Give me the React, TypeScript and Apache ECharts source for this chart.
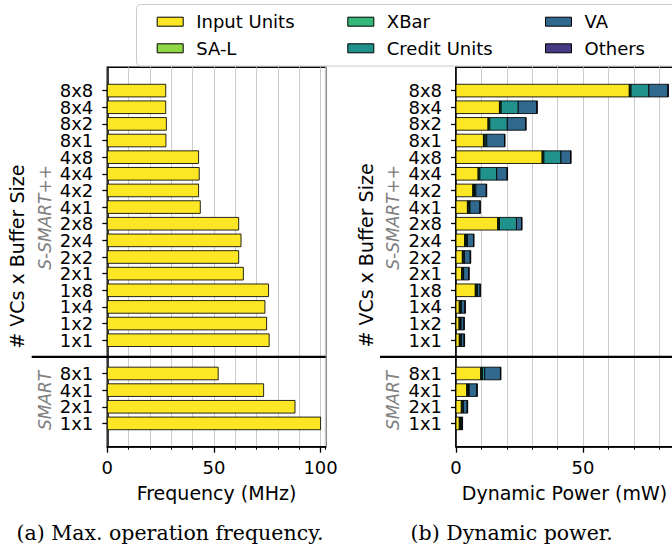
import React, { useEffect, useRef } from 'react';
import * as echarts from 'echarts';

// ---------------- data ----------------
const smartLabels = ['1x1', '2x1', '4x1', '8x1'];
const sSmartLabels = ['1x1', '1x2', '1x4', '1x8', '2x1', '2x2', '2x4', '2x8', '4x1', '4x2', '4x4', '4x8', '8x1', '8x2', '8x4', '8x8'];

const freqSmart = [100.0, 88.0, 73.3, 52.0];
const freqSSmart = [75.9, 74.7, 73.9, 75.6, 63.8, 61.6, 62.7, 61.6, 43.6, 42.8, 43.1, 42.8, 27.5, 27.7, 27.4, 27.4];

const seriesNames = ['Input Units', 'SA-L', 'XBar', 'Credit Units', 'VA', 'Others'];
const seriesColors = ['#fde725', '#8fd744', '#35b779', '#21918c', '#31688e', '#443983'];

const inputSmart = [1.3, 2.1, 4.2, 9.7];
const salSmart = [0.3, 0.3, 0.3, 0.3];
const xbarSmart = [0.4, 0.4, 0.4, 0.4];
const creditSmart = [0.0, 0.1, 0.3, 0.9];
const vaSmart = [0.4, 1.5, 3.0, 6.2];
const othersSmart = [0.2, 0.2, 0.2, 0.2];

const inputSSmart = [1.3, 1.2, 1.3, 7.6, 2.2, 2.5, 3.4, 16.4, 4.5, 6.6, 8.7, 33.9, 10.8, 12.6, 17.1, 68.2];
const salSSmart = [0.3, 0.3, 0.3, 0.3, 0.3, 0.3, 0.3, 0.3, 0.3, 0.3, 0.3, 0.3, 0.3, 0.3, 0.3, 0.3];
const xbarSSmart = [0.4, 0.4, 0.4, 0.4, 0.4, 0.4, 0.4, 0.4, 0.4, 0.4, 0.4, 0.4, 0.4, 0.4, 0.4, 0.4];
const creditSSmart = [0.1, 0.1, 0.1, 0.1, 0.1, 0.1, 0.4, 6.7, 0.3, 0.5, 6.6, 6.7, 0.6, 6.9, 6.7, 7.0];
const vaSSmart = [1.1, 1.1, 1.4, 1.1, 2.0, 2.3, 2.4, 2.0, 3.9, 4.1, 4.1, 3.8, 7.0, 7.2, 7.3, 7.5];
const othersSSmart = [0.2, 0.2, 0.2, 0.2, 0.2, 0.2, 0.2, 0.2, 0.2, 0.2, 0.2, 0.2, 0.2, 0.2, 0.2, 0.2];

const freqTicks = [0, 50, 100];
const powerTicks = [0, 50];

// ---------------- derived ----------------
const smartPos = smartLabels.map((_, i) => i);
const sepPos = smartLabels.length;
const sSmartPos = sSmartLabels.map((_, i) => sepPos + 1 + i);
const allPos = [...smartPos, ...sSmartPos];
const posLabel: Record<number, string> = {};
smartPos.forEach((p, i) => (posLabel[p] = smartLabels[i]));
sSmartPos.forEach((p, i) => (posLabel[p] = sSmartLabels[i]));

const powerSmart = [inputSmart, salSmart, xbarSmart, creditSmart, vaSmart, othersSmart];
const powerSSmart = [inputSSmart, salSSmart, xbarSSmart, creditSSmart, vaSSmart, othersSSmart];

function stackData(groups: number[][], positions: number[]) {
  const out: number[][][] = groups.map(() => []);
  positions.forEach((p, r) => {
    let acc = 0;
    groups.forEach((g, s) => {
      const v = g[r];
      out[s].push([acc, acc + v, p]);
      acc += v;
    });
  });
  return out;
}
const stackedSmart = stackData(powerSmart, smartPos);
const stackedSSmart = stackData(powerSSmart, sSmartPos);

const FONT = 'DejaVu Sans';
const EDGE = 'rgba(0,0,0,0.85)';
const BAR_FRAC = 0.76;
const Y_MIN = -1.4;
const Y_MAX = 21.4;
const FREQ_MAX = 102.4;
const POWER_MAX = 85.4;

const makeRender = (color: string) => (params: any, api: any) => {
  const a = api.coord([api.value(0), api.value(2)]);
  const b = api.coord([api.value(1), api.value(2)]);
  const h = api.size([0, 1])[1] * BAR_FRAC;
  return {
    type: 'rect',
    shape: { x: a[0], y: a[1] - h / 2, width: b[0] - a[0], height: h },
    style: { fill: color, stroke: EDGE, lineWidth: 1 },
  };
};

function xAxes(gridIndex: number, max: number, labels: number[], name: string) {
  return [
    {
      gridIndex,
      type: 'value',
      min: 0,
      max,
      interval: 10,
      position: 'bottom',
      axisLine: { show: true, onZero: false, lineStyle: { color: '#000', width: 1.5 } },
      axisTick: { show: true, length: 3, lineStyle: { color: '#000', width: 1 } },
      axisLabel: {
        customValues: labels,
        fontSize: 18,
        fontFamily: FONT,
        color: '#000',
        margin: 12,
        showMinLabel: true,
        showMaxLabel: true,
      },
      splitLine: { show: true, lineStyle: { color: '#cccccc', width: 1 } },
      name,
      nameLocation: 'middle',
      nameGap: 37,
      nameTextStyle: { fontSize: 19, fontFamily: FONT, color: '#000' },
    },
    {
      gridIndex,
      type: 'value',
      min: 0,
      max,
      position: 'bottom',
      axisLine: { show: false, onZero: false },
      axisTick: { show: true, customValues: labels, length: 6, lineStyle: { color: '#000', width: 1.3 } },
      axisLabel: { show: false },
      splitLine: { show: false },
    },
  ];
}

function yAxis(gridIndex: number) {
  return {
    gridIndex,
    type: 'value',
    min: Y_MIN,
    max: Y_MAX,
    position: 'left',
    axisLine: { show: true, onZero: false, lineStyle: { color: '#000', width: 1.5 } },
    axisTick: { show: true, customValues: allPos, length: 5, lineStyle: { color: '#000', width: 1.3 } },
    axisLabel: {
      // the extent ends are empty placeholders so that no real label is dropped
      customValues: [Y_MIN, ...allPos, Y_MAX],
      formatter: (v: number) => posLabel[Math.round(v * 10) / 10] ?? '',
      fontSize: 18,
      lineHeight: 16,
      fontFamily: FONT,
      color: '#000',
      margin: 14,
      showMinLabel: false,
      showMaxLabel: false,
      hideOverlap: false,
    },
    splitLine: { show: false },
  };
}

function legendCol(names: string[], left: number) {
  return {
    data: names,
    orient: 'vertical',
    left,
    top: 12.7,
    padding: 0,
    itemWidth: 26,
    itemHeight: 9,
    itemGap: 8.6,
    icon: 'rect',
    selectedMode: false,
    itemStyle: { borderColor: '#000', borderWidth: 1 },
    textStyle: { fontSize: 18, fontFamily: FONT, color: '#000', lineHeight: 18, padding: [0, 0, 0, 8] },
  };
}

export default function App() {
  const ref = useRef<HTMLDivElement>(null);
  useEffect(() => {
    document.body.style.margin = '0';
    if (!ref.current) return;
    const chart = echarts.init(ref.current, undefined, { renderer: 'svg' });

    const series: any[] = [];
    series.push({
      type: 'custom',
      name: 'Frequency',
      xAxisIndex: 0,
      yAxisIndex: 0,
      renderItem: makeRender(seriesColors[0]),
      encode: { x: [0, 1], y: 2 },
      itemStyle: { color: seriesColors[0] },
      data: [
        ...freqSmart.map((v, i) => [0, v, smartPos[i]]),
        ...freqSSmart.map((v, i) => [0, v, sSmartPos[i]]),
      ],
    });
    seriesNames.forEach((name, s) => {
      series.push({
        type: 'custom',
        name,
        xAxisIndex: 2,
        yAxisIndex: 1,
        renderItem: makeRender(seriesColors[s]),
        encode: { x: [0, 1], y: 2 },
        itemStyle: { color: seriesColors[s], borderColor: '#000', borderWidth: 1 },
        data: [...stackedSmart[s], ...stackedSSmart[s]],
      });
    });

    const option: any = {
      animation: false,
      backgroundColor: '#fff',
      grid: [
        { left: 107.3, top: 67.3, width: 218.4, height: 379.4, show: true, borderColor: '#000', borderWidth: 1.5, outerBoundsMode: 'none', containLabel: false },
        { left: 456, top: 67.3, width: 217, height: 379.4, show: true, borderColor: '#000', borderWidth: 1.5, outerBoundsMode: 'none', containLabel: false },
      ],
      xAxis: [
        ...xAxes(0, FREQ_MAX, freqTicks, 'Frequency (MHz)'),
        ...xAxes(1, POWER_MAX, powerTicks, 'Dynamic Power (mW)'),
      ],
      yAxis: [yAxis(0), yAxis(1)],
      legend: [
        legendCol([seriesNames[0], seriesNames[1]], 156.7),
        legendCol([seriesNames[2], seriesNames[3]], 347.3),
        legendCol([seriesNames[4], seriesNames[5]], 545),
      ],
      series,
    };
    chart.setOption(option);

    const sepY = chart.convertToPixel({ yAxisIndex: 0 }, sepPos) as number;
    const leftEnd = chart.convertToPixel({ xAxisIndex: 0 }, FREQ_MAX) as number;
    const rightEnd = chart.convertToPixel({ xAxisIndex: 2 }, POWER_MAX) as number;
    const sGroupY = chart.convertToPixel({ yAxisIndex: 0 }, (sSmartPos[0] + sSmartPos[sSmartPos.length - 1]) / 2) as number;
    const smartGroupY = chart.convertToPixel({ yAxisIndex: 0 }, (smartPos[0] + smartPos[smartPos.length - 1]) / 2) as number;

    const rotText = (text: string, x: number, y: number, size: number, color: string, italic: boolean) => ({
      type: 'text',
      x,
      y,
      rotation: Math.PI / 2,
      z: 50,
      style: {
        text,
        fill: color,
        fontSize: size,
        fontFamily: FONT,
        fontStyle: italic ? 'italic' : 'normal',
        align: 'center',
        verticalAlign: 'middle',
      },
    });

    chart.setOption({
      graphic: [
        {
          type: 'rect',
          z: 0,
          shape: { x: 136.5, y: 4.5, width: 560, height: 61.5, r: 4 },
          style: { fill: 'rgba(255,255,255,0.85)', stroke: '#cccccc', lineWidth: 1 },
        },
        {
          type: 'line',
          z: 60,
          shape: { x1: 31.7, y1: sepY, x2: leftEnd, y2: sepY },
          style: { stroke: '#000', lineWidth: 2.4 },
        },
        {
          type: 'line',
          z: 60,
          shape: { x1: 380, y1: sepY, x2: rightEnd, y2: sepY },
          style: { stroke: '#000', lineWidth: 2.4 },
        },
        rotText('# VCs x Buffer Size', 17, 256.7, 19, '#000', false),
        rotText('# VCs x Buffer Size', 365.7, 255.5, 19, '#000', false),
        rotText('S-SMART++', 45, sGroupY + 2, 17, '#808080', true),
        rotText('S-SMART++', 393.3, sGroupY + 2, 17, '#808080', true),
        rotText('SMART', 45, smartGroupY + 2, 17, '#808080', true),
        rotText('SMART', 393.3, smartGroupY + 2, 17, '#808080', true),
        {
          type: 'text',
          x: 170,
          y: 533,
          style: { text: '(a) Max. operation frequency.', fill: '#000', fontSize: 20.5, fontFamily: 'DejaVu Serif', align: 'center', verticalAlign: 'middle' },
        },
        {
          type: 'text',
          x: 511.7,
          y: 533,
          style: { text: '(b) Dynamic power.', fill: '#000', fontSize: 20.5, fontFamily: 'DejaVu Serif', align: 'center', verticalAlign: 'middle' },
        },
      ],
    });

    return () => chart.dispose();
  }, []);
  return <div ref={ref} style={{ width: 672, height: 546 }} />;
}
